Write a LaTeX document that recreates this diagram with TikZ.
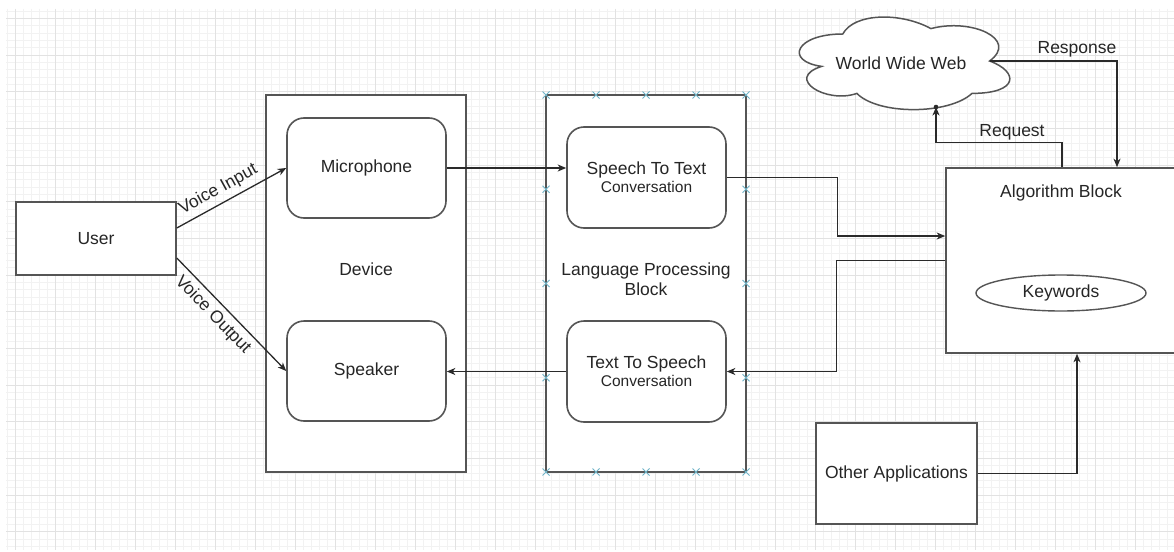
\documentclass[tikz,border=0pt]{standalone}
\usepackage{fontspec}
\setmainfont{Liberation Sans}
\usetikzlibrary{arrows.meta,shapes.geometric,shapes.misc,calc}
\definecolor{linec}{HTML}{555555}
\definecolor{connc}{HTML}{2A2A2A}
\definecolor{textc}{HTML}{262626}
\definecolor{gridminor}{HTML}{F2F2F2}
\definecolor{gridmajor}{HTML}{E2E2E2}
\definecolor{xblue}{HTML}{6FB4C8}
\tikzset{
  lbl/.style={font=\fontsize{17.5}{20}\selectfont, text=textc, inner sep=2pt},
  box/.style={draw=linec, line width=1.6pt, fill=white, lbl},
  rbox/.style={box, rounded corners=17pt},
  arr/.style={draw=connc, line width=1.3pt, -{Stealth[length=8.5pt,width=7pt,inset=2.5pt]}},
  conn/.style={draw=linec, line width=1.5pt},
  xmk/.style={cross out, draw=xblue, line width=1pt, minimum size=6pt, inner sep=0pt},
  minorln/.style={draw=gridminor, line width=0.8pt},
  majorln/.style={draw=gridmajor, line width=0.9pt}
}
\begin{document}
\begin{tikzpicture}[x=1pt,y=-1pt]
\useasboundingbox (0,0) rectangle (1174,551);
\fill[white] (0,0) rectangle (1174,551);
% grid
\foreach \x in {7,15,...,1174} \draw[minorln] (\x,9) -- (\x,550);
\foreach \y in {11,18.333,...,550} \draw[minorln] (6,\y) -- (1174,\y);
\foreach \x in {15,55,...,1174} \draw[majorln] (\x,9) -- (\x,550);
\foreach \y in {18.333,55,...,550} \draw[majorln] (6,\y) -- (1174,\y);

% user
\node[box, minimum width=160pt, minimum height=73pt] (user) at (96,238.5) {User};

% device
\node[box, minimum width=200pt, minimum height=377pt] (device) at (366,283.5) {};
\node[lbl] (devt) at (366,269) {Device};
\node[rbox, minimum width=159pt, minimum height=100pt] (mic) at (366.5,168) {Microphone};
\node[rbox, minimum width=159pt, minimum height=100pt] (spk) at (366.5,371) {Speaker};

% language processing block
\node[box, minimum width=200pt, minimum height=377pt] (lpb) at (646,283.5) {};
\node[lbl, align=center] (lpbt) at (646,279) {Language Processing\\Block};
\node[rbox, minimum width=159pt, minimum height=101pt, align=center] (stt) at (646.5,177.5) {Speech To Text\\[-2pt]{\fontsize{15.5}{18}\selectfont Conversation}};
\node[rbox, minimum width=159pt, minimum height=101pt, align=center] (tts) at (646.5,371.5) {Text To Speech\\[-2pt]{\fontsize{15.5}{18}\selectfont Conversation}};
\foreach \xx [count=\i] in {546,596,646,696,746} {
  \node[xmk] (mkt\i) at (\xx,95) {};
  \node[xmk] (mkb\i) at (\xx,472) {};
}
\foreach \yy [count=\i] in {189.25,283.5,377.75} {
  \node[xmk] (mkl\i) at (546,\yy) {};
  \node[xmk] (mkr\i) at (746,\yy) {};
}

% algorithm block
\node[box, minimum width=234pt, minimum height=185pt] (algo) at (1063,260.5) {};
\node[lbl] (algot) at (1061,193) {Algorithm Block};
\node[draw=linec, line width=1.4pt, ellipse, fill=white, lbl, minimum width=170pt, minimum height=36pt] (kw) at (1061,293) {Keywords};

% other applications
\node[box, minimum width=161pt, minimum height=101pt] (other) at (896.5,473.5) {Other Applications};

% cloud
\draw[conn, fill=white] (842.75,34)
  .. controls (795.75,34) and (784,61) .. (821.6,66.4)
  .. controls (784,78.28) and (826.3,104.2) .. (856.85,93.4)
  .. controls (878,115) and (948.5,115) .. (972,93.4)
  .. controls (1019,93.4) and (1019,71.8) .. (989.6,61)
  .. controls (1019,39.4) and (972,17.8) .. (930.9,28.6)
  .. controls (901.5,12.4) and (854.5,12.4) .. (842.75,34) -- cycle;
\node[lbl] (www) at (901,63) {World Wide Web};
\coordinate (wwwb) at (936,107);
\coordinate (wwwr) at (989.6,61);

% connectors
\draw[arr] ([yshift=10.5pt]user.east) -- (mic.west)
  node[lbl, pos=0.44, sloped, above=3pt] (vin) {Voice Input};
\draw[arr] ([yshift=-19.5pt]user.east) -- (spk.west)
  node[lbl, pos=0.42, sloped, below=3pt] (vout) {Voice Output};
\draw[arr] (mic.east) -- (mic.east -| stt.west);
\draw[arr] (tts.west) -- (tts.west -| spk.east);
\draw[arr] (stt.east) -- ++(111,0) |- ([yshift=24.5pt]algo.west);
\draw[arr] (algo.west) -- ++(-109,0) |- (tts.east);
\draw[arr] (other.east) -| ([xshift=14pt]algo.south);
\draw[arr] ([xshift=-1pt]algo.north) -- ++(0,-25) -| (wwwb);
\fill[connc] (wwwb) circle (2.3pt);
\node[lbl] (req) at (1012,132) {Request};
\draw[arr] (wwwr) -| ([xshift=54pt]algo.north);
\node[lbl] (resp) at (1077,49) {Response};
\end{tikzpicture}
\end{document}
